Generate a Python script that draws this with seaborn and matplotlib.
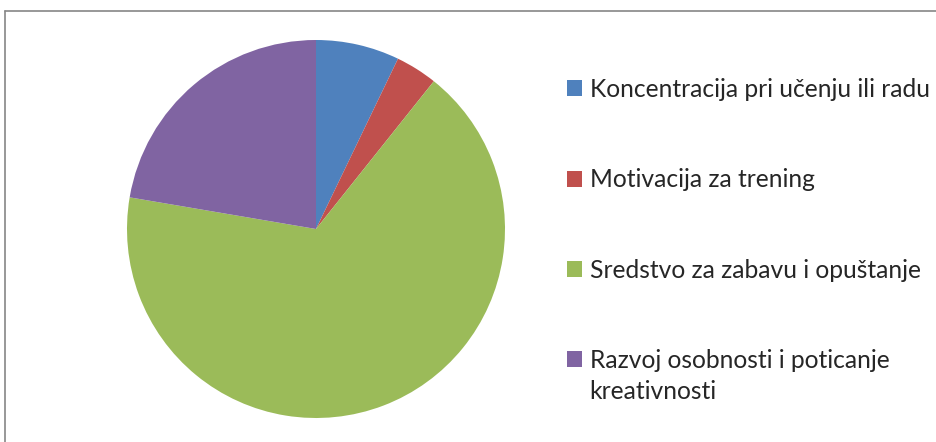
import matplotlib
matplotlib.use("Agg")
import matplotlib.pyplot as plt
from matplotlib.lines import Line2D
from matplotlib.patches import Patch
import seaborn as sns

# answers (counts)
categories = [
    "Koncentracija pri učenju ili radu",
    "Motivacija za trening",
    "Sredstvo za zabavu i opuštanje",
    "Razvoj osobnosti i poticanje",
]
last_label_tail = "kreativnosti"
counts = [8, 4, 75, 25]
colors = ["#4F81BD", "#C0504D", "#9BBB59", "#8064A2"]

sns.set_theme(style="white")
plt.rcParams['font.family'] = ['Lato', 'DejaVu Sans']

W, H = 937, 442
fig = plt.figure(figsize=(W / 100, H / 100), dpi=100)
fig.patch.set_facecolor("white")

# pie centred at (316, 229) px, radius ~189 px
cx, cy, r = 316, 229, 189
ax = fig.add_axes([(cx - r) / W, (H - cy - r) / H, 2 * r / W, 2 * r / H])
ax.pie(counts, colors=colors, startangle=90, counterclock=False,
       wedgeprops=dict(linewidth=0))
ax.set_xlim(-1, 1)
ax.set_ylim(-1, 1)
ax.set_aspect("equal")
ax.axis("off")

# chart area border (only top and left edges are inside the crop)
fig.add_artist(Line2D([5 / W, 1], [1 - 11 / H, 1 - 11 / H], color="#868686", lw=1.2))
fig.add_artist(Line2D([5 / W, 5 / W], [0, 1 - 11 / H], color="#868686", lw=1.2))

fs = 17.7
handles = [Patch(facecolor=c, edgecolor="none") for c in colors]
leg = fig.legend(handles, categories, loc="upper left",
                 bbox_to_anchor=(567 / W, 1 - 78 / H), frameon=False,
                 fontsize=fs, handlelength=0.62, handleheight=0.62,
                 handletextpad=0.3, labelspacing=2.74, borderaxespad=0,
                 borderpad=0)

# second line of the last legend entry, under its first line
fig.canvas.draw()
bb = leg.get_texts()[-1].get_window_extent()
fig.text(bb.x0 / W, (bb.y0 - 31) / H, last_label_tail, fontsize=fs,
         color=leg.get_texts()[-1].get_color(), va="bottom", ha="left")

fig.savefig("out.png", dpi=100, facecolor="white")
